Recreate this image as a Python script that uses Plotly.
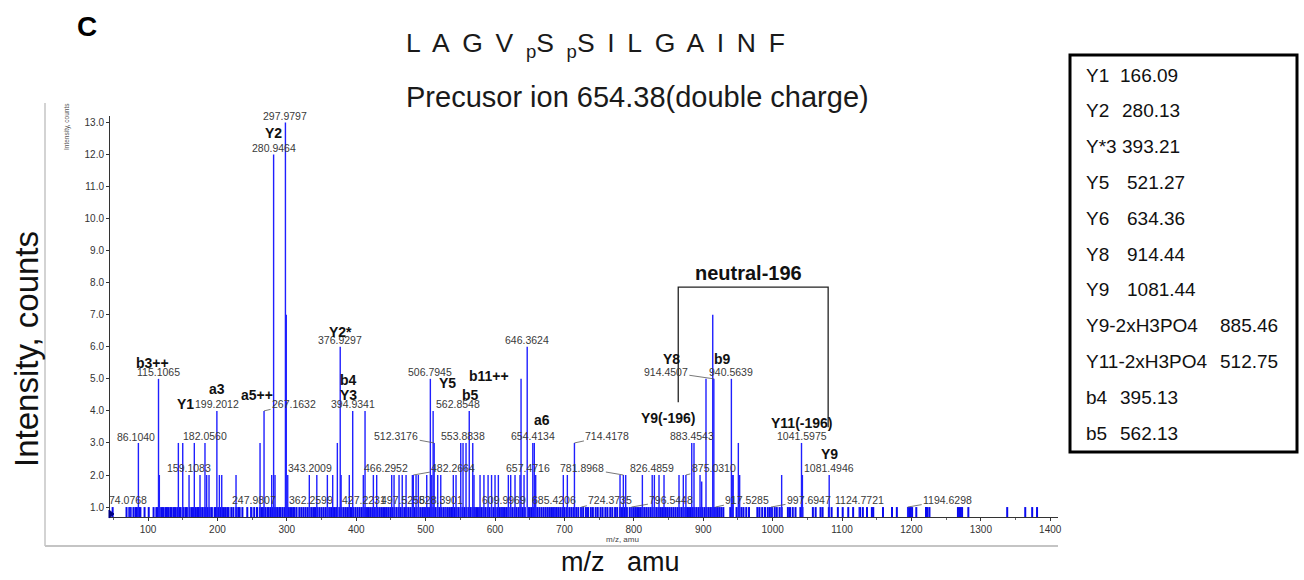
import plotly.graph_objects as go

# ---------------- data ----------------
peak_mz = [74.0768, 86.104, 115.1065, 116.3, 143.7, 150.0, 159.1083, 166.7, 174.9, 182.056,
           184.5, 187.9, 199.2012, 202.8, 206.2, 226.8, 247.9807, 261.4, 267.1632, 278.2,
           280.9464, 283.0, 297.9797, 299.2, 301.3, 332.4, 343.2009, 358.4, 362.2599, 366.1,
           372.8, 376.9297, 378.2, 390.0, 394.9341, 410.2, 412.7, 424.7, 427.2231, 429.5,
           451.1, 454.5, 461.7, 466.2952, 471.8, 480.9, 482.2664, 486.2, 489.5, 497.5258,
           501.6, 506.7945, 508.8, 510.8, 512.3176, 517.4, 521.8, 528.3901, 539.9, 543.8,
           550.6, 553.8838, 558.2, 562.8548, 567.9, 569.7, 578.4, 584.0, 590.0, 595.0,
           600.0, 604.8, 609.9969, 619.2, 622.6, 628.8, 636.0, 637.5, 641.8, 646.3624,
           654.4134, 656.6, 658.6, 685.4206, 698.4, 704.2, 714.4178, 724.3735, 780.1, 784.9,
           788.3, 796.5448, 812.3, 826.4859, 829.6, 836.3, 843.5, 865.1, 871.3, 875.031,
           883.4543, 886.7, 895.4, 897.8, 904.0, 913.7, 915.3, 917.5285, 940.5639, 941.8,
           943.2, 950.6, 952.5, 997.6947, 1013.0, 1041.5975, 1042.9, 1081.4946, 1124.7721, 1194.6298]
peak_int = [1.0, 3.0, 5.0, 2.0, 3.0, 3.0, 2.0, 3.0, 2.0, 3.0,
            2.0, 2.0, 4.0, 2.0, 2.0, 2.0, 1.0, 3.0, 4.0, 2.0,
            12.0, 2.0, 13.0, 7.0, 2.0, 2.0, 2.0, 2.0, 1.0, 2.0,
            3.0, 6.0, 2.0, 2.0, 4.0, 2.0, 4.0, 2.0, 1.0, 2.0,
            2.0, 2.0, 2.0, 2.0, 2.0, 2.0, 2.0, 2.0, 2.0, 1.0,
            2.0, 5.0, 2.0, 4.0, 3.0, 2.0, 2.0, 1.0, 2.0, 2.0,
            3.0, 3.0, 3.0, 4.0, 3.0, 2.0, 2.0, 2.0, 2.0, 2.0,
            2.0, 2.0, 1.0, 2.0, 2.0, 2.0, 2.0, 5.0, 2.0, 6.0,
            3.0, 3.0, 2.0, 1.0, 2.0, 2.0, 3.0, 1.0, 2.0, 2.0,
            2.0, 1.0, 2.0, 2.0, 2.0, 2.0, 2.0, 2.0, 2.0, 2.0,
            3.0, 3.0, 2.0, 1.8, 5.0, 7.0, 5.0, 1.0, 5.0, 2.0,
            2.0, 3.0, 2.0, 1.0, 2.0, 3.0, 2.0, 2.0, 1.0, 1.0]

# low-level baseline peaks, all about 1.0 count
noise_mz = [49, 69, 73, 75, 79, 82, 84, 87, 89, 95, 101, 108, 112, 114, 117, 120, 122, 125, 127,
            129, 132, 134, 137, 139, 142, 145, 147, 151, 154, 156, 160, 163, 165, 169, 172, 175,
            178, 181, 183, 186, 189, 192, 196, 198, 201, 205, 208, 211, 214, 216, 220, 223, 227,
            230, 232, 236, 243, 249, 253, 257, 261, 264, 266, 269, 272, 274, 277, 280, 283, 286,
            289, 291, 294, 297, 300, 303, 306, 309, 311, 314, 318, 321, 324, 327, 330, 333, 336,
            339, 341, 344, 347, 350, 353, 356, 359, 362, 365, 368, 371, 373, 376, 379, 382, 385,
            388, 391, 393, 396, 399, 402, 405, 408, 411, 414, 417, 420, 423, 426, 429, 431, 434,
            437, 440, 443, 446, 449, 452, 455, 458, 461, 464, 467, 470, 472, 475, 478, 481, 484,
            487, 490, 493, 496, 499, 502, 505, 508, 511, 514, 517, 520, 523, 526, 529, 532, 535,
            538, 541, 544, 547, 550, 553, 556, 559, 562, 565, 568, 571, 574, 577, 580, 583, 586,
            589, 592, 595, 598, 601, 604, 607, 610, 613, 616, 619, 622, 625, 628, 631, 634, 637,
            640, 643, 649, 652, 655, 658, 661, 664, 667, 670, 673, 676, 679, 682, 685, 688, 691,
            694, 697, 700, 703, 707, 710, 713, 717, 720, 724, 727, 731, 734, 738, 741, 745, 748,
            752, 755, 759, 762, 766, 769, 773, 776, 780, 783, 787, 790, 794, 797, 800, 803, 806,
            809, 812, 815, 818, 821, 824, 827, 830, 833, 836, 839, 842, 845, 848, 851, 854, 857,
            860, 863, 866, 869, 872, 875, 878, 881, 884, 887, 890, 893, 896, 899, 902, 905, 908,
            911, 914, 917, 920, 923, 926, 929, 939, 942, 948, 951, 955, 958, 962, 966, 978, 981,
            985, 989, 993, 996, 999, 1003, 1006, 1010, 1013, 1022, 1025, 1029, 1033, 1040, 1043,
            1058, 1062, 1069, 1072, 1081, 1085, 1094, 1101, 1109, 1116, 1126, 1130, 1136, 1143,
            1145, 1159, 1172, 1179, 1195, 1197, 1199, 1201, 1207, 1221, 1223, 1226, 1267, 1269,
            1271, 1273, 1282, 1338, 1364, 1374, 1381]
NOISE_LEVEL = 1.0

# numeric peak labels: (peak m/z, text)
mass_labels = [(74.0768, "74.0768"), (86.104, "86.1040"), (115.1065, "115.1065"),
               (159.1083, "159.1083"), (182.056, "182.0560"), (199.2012, "199.2012"),
               (247.9807, "247.9807"), (267.1632, "267.1632"), (280.9464, "280.9464"),
               (297.9797, "297.9797"), (343.2009, "343.2009"), (362.2599, "362.2599"),
               (376.9297, "376.9297"), (394.9341, "394.9341"), (427.2231, "427.2231"),
               (466.2952, "466.2952"), (482.2664, "482.2664"), (497.5258, "497.5258"),
               (506.7945, "506.7945"), (512.3176, "512.3176"), (528.3901, "528.3901"),
               (553.8838, "553.8838"), (562.8548, "562.8548"), (609.9969, "609.9969"),
               (646.3624, "646.3624"), (654.4134, "654.4134"), (658.6, "657.4716"),
               (685.4206, "685.4206"), (714.4178, "714.4178"), (724.3735, "724.3735"),
               (784.9, "781.8968"), (796.5448, "796.5448"), (826.4859, "826.4859"),
               (875.031, "875.0310"), (883.4543, "883.4543"), (915.3, "914.4507"),
               (940.5639, "940.5639"), (917.5285, "917.5285"), (997.6947, "997.6947"),
               (1041.5975, "1041.5975"), (1081.4946, "1081.4946"), (1124.7721, "1124.7721"),
               (1194.6298, "1194.6298")]

# fragment-ion names: (peak m/z, text)
ion_labels = [(115.1065, "b3++"), (199.2012, "a3"), (199.2012, "Y1"), (267.1632, "a5++"),
              (280.9464, "Y2"), (376.9297, "Y2*"), (394.9341, "b4"), (394.9341, "Y3"),
              (510.8, "Y5"), (562.8548, "b5"), (637.5, "b11++"), (654.4134, "a6"),
              (883.4543, "Y9(-196)"), (915.3, "Y8"), (940.5639, "b9"),
              (1041.5975, "Y11(-196)"), (1081.4946, "Y9")]

legend_names = ["Y1", "Y2", "Y*3", "Y5", "Y6", "Y8", "Y9", "Y9-2xH3PO4", "Y11-2xH3PO4", "b4", "b5"]
legend_values = ["166.09", "280.13", "393.21", "521.27", "634.36", "914.44", "1081.44",
                 "885.46", "512.75", "395.13", "562.13"]

sequence_text = ("L\u2009 A\u2009 G\u2009 V\u2009 <sub>p</sub>S\u2009 <sub>p</sub>S\u2009 I\u2009 L"
                 "\u2009 G\u2009 A\u2009 I\u2009 N\u2009 F")
precursor_text = "Precusor ion 654.38(double charge)"
panel_letter = "C"
neutral_text = "neutral-196"
neutral_from, neutral_to = 864.0, 1080.0
neutral_top, neutral_left_end, neutral_right_end = 7.86, 4.27, 3.49

x_ticks = [100, 200, 300, 400, 500, 600, 700, 800, 900, 1000, 1100, 1200, 1300, 1400]
y_ticks = [1.0, 2.0, 3.0, 4.0, 5.0, 6.0, 7.0, 8.0, 9.0, 10.0, 11.0, 12.0, 13.0]

# ---------------- layout / styling ----------------
W, H = 1304, 580
PL, PR, PT, PB = 110, 1058, 116, 517
X_RANGE = [45.2, 1411.2]
Y_RANGE = [0.69, 13.2]
BLUE = "#1f1fff"
FONT = "Liberation Sans, Arial, sans-serif"


def ppx(x):
    return (x - PL) / (PR - PL)


def ppy(y):
    return (PB - y) / (PB - PT)


intensity = dict(zip(peak_mz, peak_int))


def stems(xs, ys):
    sx, sy = [], []
    for x, y in zip(xs, ys):
        sx += [x, x, None]
        sy += [0, y, None]
    return sx, sy


fig = go.Figure()
nx, ny = stems(noise_mz, [NOISE_LEVEL] * len(noise_mz))
fig.add_trace(go.Scatter(x=nx, y=ny, mode="lines", line=dict(color="#0a0af0", width=2),
                         hoverinfo="skip", showlegend=False))
sx, sy = stems(peak_mz, peak_int)
fig.add_trace(go.Scatter(x=sx, y=sy, mode="lines", line=dict(color=BLUE, width=1.4),
                         hoverinfo="skip", showlegend=False))

ann = []
# label offsets in pixels: (dx, dy up, leader line)
mass_off = {"74.0768": (-2, 7, False), "86.1040": (-2, 6, False), "247.9807": (3, 7, False),
            "267.1632": (30, 7, True), "280.9464": (0, 6, False), "297.9797": (0, 6, False),
            "343.2009": (-7, 7, False), "362.2599": (-19, 7, True), "427.2231": (-11, 7, False),
            "466.2952": (-16, 7, False), "482.2664": (40, 7, True), "497.5258": (-21, 7, True),
            "512.3176": (-38, 7, True), "528.3901": (-4, 7, False), "562.8548": (-11, 7, False),
            "609.9969": (2, 7, False), "657.4716": (-8, 7, False), "714.4178": (33, 7, True),
            "724.3735": (29, 7, True), "781.8968": (-41, 7, True), "796.5448": (40, 7, True),
            "875.0310": (28, 7, True), "914.4507": (-48, 7, True), "917.5285": (32, 7, True),
            "997.6947": (38, 7, True), "1194.6298": (40, 7, True)}
for mz, txt in mass_labels:
    dx, dy, leader = mass_off.get(txt, (0, 7, False))
    a = dict(x=mz, y=intensity[mz], xref="x", yref="y", text=txt,
             xanchor="center", yanchor="middle",
             font=dict(family=FONT, size=10.5, color="#3a3a3a"))
    if leader:
        a.update(showarrow=True, ax=dx, ay=-dy, arrowhead=0, arrowwidth=0.8,
                 arrowcolor="#555555", standoff=0)
    else:
        a.update(showarrow=False, xshift=dx, yshift=dy)
    ann.append(a)

ion_off = {"b3++": (-6, 16), "a3": (0, 22), "Y1": (-31, 7), "a5++": (-7, 16), "Y2": (0, 21),
           "Y2*": (0, 15), "b4": (-4, 31), "Y3": (-4, 16), "Y5": (14, 28), "b5": (1, 16),
           "b11++": (-32, 3), "a6": (9, 23), "Y9(-196)": (-24, 25), "Y8": (-42, 20),
           "b9": (-9, 20), "Y11(-196)": (0, 20), "Y9": (0, 21)}
for mz, txt in ion_labels:
    dx, dy = ion_off[txt]
    ann.append(dict(x=mz, y=intensity[mz], xref="x", yref="y", text="<b>%s</b>" % txt,
                    showarrow=False, xshift=dx, yshift=dy, xanchor="center", yanchor="middle",
                    font=dict(family=FONT, size=14, color="#111111")))

# neutral loss bracket
shapes = [dict(type="path", xref="x", yref="y",
               path="M %g,%g L %g,%g L %g,%g L %g,%g" % (neutral_from, neutral_left_end,
                                                         neutral_from, neutral_top,
                                                         neutral_to, neutral_top,
                                                         neutral_to, neutral_right_end),
               line=dict(color="#222222", width=1.3))]
ann.append(dict(x=(neutral_from + neutral_to) / 2, y=neutral_top, xref="x", yref="y",
                text="<b>%s</b>" % neutral_text, showarrow=False, yshift=14, xshift=-5,
                xanchor="center", yanchor="middle",
                font=dict(family=FONT, size=20, color="#111111")))

# outer light frame (left and bottom)
shapes.append(dict(type="line", xref="paper", yref="paper", x0=ppx(45), x1=ppx(45),
                   y0=ppy(103), y1=ppy(546), line=dict(color="#c4c4c4", width=1.5)))
shapes.append(dict(type="line", xref="paper", yref="paper", x0=ppx(45), x1=ppx(1058),
                   y0=ppy(546), y1=ppy(546), line=dict(color="#c4c4c4", width=2)))
# small origin marker on the x axis
shapes.append(dict(type="path", xref="paper", yref="paper",
                   path="M %f,%f L %f,%f L %f,%f Z" % (ppx(109), ppy(510), ppx(114), ppy(514),
                                                      ppx(109), ppy(518)),
                   fillcolor="#000080", line=dict(color="#000080", width=1)))

# legend box
shapes.append(dict(type="rect", xref="paper", yref="paper", x0=ppx(1070), x1=ppx(1297),
                   y0=ppy(55), y1=ppy(452), line=dict(color="#000000", width=3)))
value_x = [1118, 1120, 1120, 1125, 1125, 1125, 1125, 1218, 1218, 1118, 1118]
for i, (nm, val) in enumerate(zip(legend_names, legend_values)):
    yy = ppy(75 + 35.8 * i)
    ann.append(dict(x=ppx(1084), y=yy, xref="paper", yref="paper", text=nm, showarrow=False,
                    xanchor="left", yanchor="middle",
                    font=dict(family=FONT, size=19, color="#111111")))
    ann.append(dict(x=ppx(value_x[i]), y=yy, xref="paper", yref="paper", text=val,
                    showarrow=False, xanchor="left", yanchor="middle",
                    font=dict(family=FONT, size=19, color="#111111")))

# titles and axis labels
ann.append(dict(x=ppx(404), y=ppy(45), xref="paper", yref="paper", text=sequence_text,
                showarrow=False, xanchor="left", yanchor="middle",
                font=dict(family=FONT, size=26.5, color="#1a1a1a")))
ann.append(dict(x=ppx(404), y=ppy(97), xref="paper", yref="paper", text=precursor_text,
                showarrow=False, xanchor="left", yanchor="middle",
                font=dict(family=FONT, size=29, color="#1a1a1a")))
ann.append(dict(x=ppx(87), y=ppy(27), xref="paper", yref="paper",
                text="<b>%s</b>" % panel_letter, showarrow=False,
                xanchor="center", yanchor="middle",
                font=dict(family=FONT, size=28, color="#000000")))
ann.append(dict(x=ppx(26), y=ppy(349), xref="paper", yref="paper", text="Intensity, counts",
                showarrow=False, textangle=-90, xanchor="center", yanchor="middle",
                font=dict(family=FONT, size=33, color="#111111")))
ann.append(dict(x=ppx(620), y=ppy(562), xref="paper", yref="paper",
                text="m/z\u00a0\u00a0\u00a0amu", showarrow=False,
                xanchor="center", yanchor="middle",
                font=dict(family=FONT, size=27, color="#111111")))
ann.append(dict(x=ppx(67), y=ppy(127), xref="paper", yref="paper", text="Intensity, counts",
                showarrow=False, textangle=-90, xanchor="center", yanchor="middle",
                font=dict(family=FONT, size=6.5, color="#555555")))
ann.append(dict(x=ppx(622), y=ppy(539), xref="paper", yref="paper", text="m/z, amu",
                showarrow=False, xanchor="center", yanchor="middle",
                font=dict(family=FONT, size=8, color="#444444")))

fig.update_layout(
    width=W, height=H, autosize=False, paper_bgcolor="white", plot_bgcolor="white",
    margin=dict(l=PL, r=W - PR, t=PT, b=H - PB, pad=0),
    showlegend=False, annotations=ann, shapes=shapes,
    xaxis=dict(range=X_RANGE, tickvals=x_ticks, showgrid=False, zeroline=False,
               showline=True, linecolor="#333333", linewidth=1, ticks="outside", ticklen=3,
               tickcolor="#333333", tickfont=dict(family=FONT, size=10, color="#333333"),
               minor=dict(dtick=50, tick0=50, ticks="outside", ticklen=2, tickcolor="#666666")),
    yaxis=dict(range=Y_RANGE, tickvals=y_ticks, tickformat=".1f", showgrid=False,
               zeroline=False, showline=True, linecolor="#333333", linewidth=1,
               ticks="outside", ticklen=3, tickcolor="#333333",
               tickfont=dict(family=FONT, size=10, color="#333333")),
)

fig.write_html("out.html", config={"responsive": False, "displayModeBar": False},
               post_script="document.body.style.margin='0px';document.body.style.padding='0px';"
                           "document.body.style.overflow='hidden';")
